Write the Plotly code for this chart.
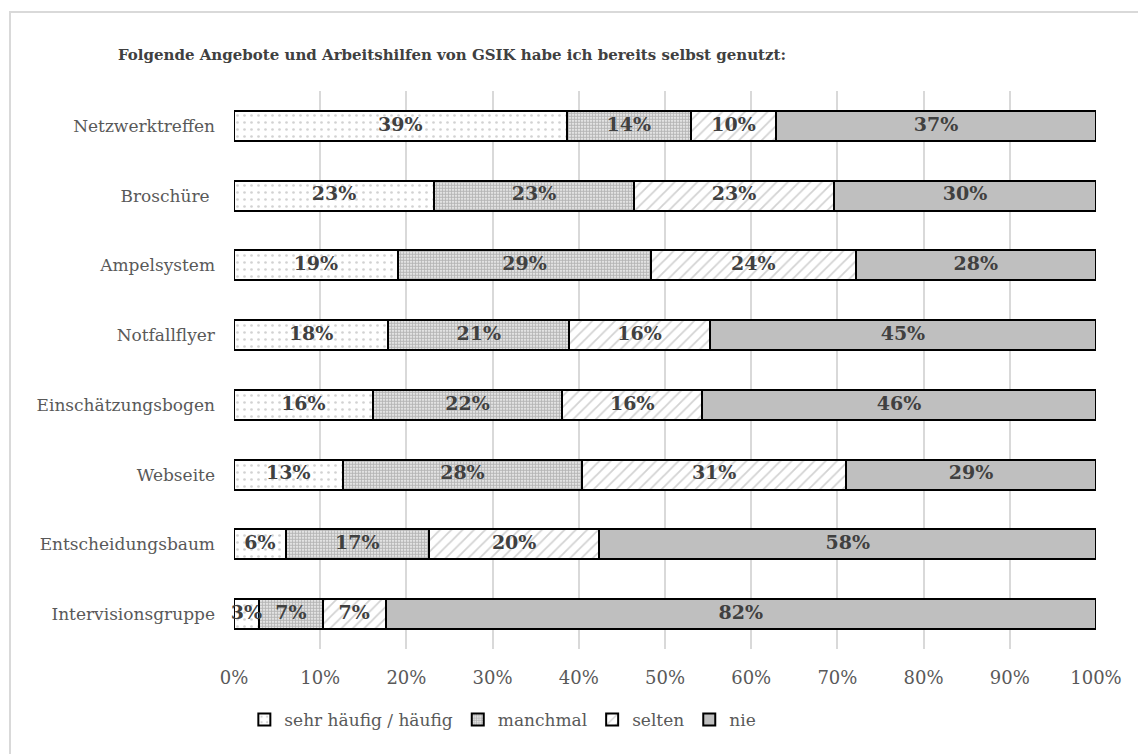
import plotly.graph_objects as go

categories = ["Netzwerktreffen", "Broschüre ", "Ampelsystem", "Notfallflyer",
              "Einschätzungsbogen", "Webseite", "Entscheidungsbaum", "Intervisionsgruppe"]
sehr_haeufig = [38.6, 23.2, 19.0, 17.9, 16.1, 12.6, 6.0, 2.9]
manchmal = [14.4, 23.2, 29.4, 21.0, 22.0, 27.8, 16.6, 7.4]
selten = [9.9, 23.2, 23.7, 16.3, 16.2, 30.6, 19.8, 7.3]
nie = [37.1, 30.4, 27.9, 44.8, 45.7, 29.0, 57.6, 82.4]
series_names = ["sehr häufig / häufig", "manchmal", "selten", "nie"]
x_ticks = [0, 10, 20, 30, 40, 50, 60, 70, 80, 90, 100]
x_tick_labels = [f"{t}%" for t in x_ticks]

FONT = "DejaVu Serif"
patterns = [
    dict(shape=".", fgcolor="#a6a6a6", bgcolor="#ffffff", size=7, solidity=0.12),
    dict(shape=".", fgcolor="#6e6e6e", bgcolor="#ffffff", size=3, solidity=0.7),
    dict(shape="/", fgcolor="#a6a6a6", bgcolor="#ffffff", size=8, solidity=0.22),
    dict(shape="", fgcolor="#bfbfbf", bgcolor="#bfbfbf"),
]
colors = ["#ffffff", "#ffffff", "#ffffff", "#bfbfbf"]
all_series = [sehr_haeufig, manchmal, selten, nie]

fig = go.Figure()
for name, vals, pat, col in zip(series_names, all_series, patterns, colors):
    fig.add_trace(go.Bar(
        y=categories, x=vals, name=name, orientation="h",
        marker=dict(color=col, pattern=pat, line=dict(color="#000000", width=2)),
        hoverinfo="skip",
    ))

# data labels drawn on top of all bars (centre of each stacked segment)
base = [0.0] * len(categories)
for vals in all_series:
    mids = [b + v / 2 for b, v in zip(base, vals)]
    fig.add_trace(go.Scatter(
        x=mids, y=categories, mode="text", text=[f"{v:.0f}%" for v in vals],
        textposition="middle center", cliponaxis=False, showlegend=False, hoverinfo="skip",
        textfont=dict(family=FONT, size=19, color="#404040", weight="bold"),
    ))
    base = [b + v for b, v in zip(base, vals)]

fig.update_layout(
    barmode="stack", bargap=0.57,
    width=1138, height=754,
    margin=dict(l=234, r=42, t=91, b=105),
    paper_bgcolor="white", plot_bgcolor="white",
    font=dict(family=FONT, size=17, color="#595959"),
    title=dict(text="<b>Folgende Angebote und Arbeitshilfen von GSIK habe ich bereits selbst genutzt:</b>",
               x=118/1138, xanchor="left", xref="container",
               y=1-55/754, yanchor="middle", yref="container",
               font=dict(family=FONT, size=15, color="#404040")),
    legend=dict(orientation="h", x=0.012, xanchor="left", y=-0.127, yanchor="middle",
                font=dict(family=FONT, size=17, color="#595959"),
                traceorder="normal", itemwidth=30),
    xaxis=dict(range=[0, 100], tickvals=x_ticks, ticktext=x_tick_labels,
               showgrid=True, gridcolor="#d9d9d9", gridwidth=2, zeroline=False,
               ticklabelstandoff=16, tickfont=dict(family=FONT, size=18, color="#595959"),
               fixedrange=True),
    yaxis=dict(autorange="reversed", showgrid=False, ticklabelstandoff=18,
               tickfont=dict(family=FONT, size=17, color="#595959")),
    shapes=[dict(type="rect", xref="paper", yref="paper",
                 x0=(10-234)/862, x1=1.2, y0=-0.5, y1=1+(91-12)/558,
                 line=dict(color="#d9d9d9", width=2), fillcolor="rgba(0,0,0,0)", layer="below")],
)

fig.write_html("out.html")
